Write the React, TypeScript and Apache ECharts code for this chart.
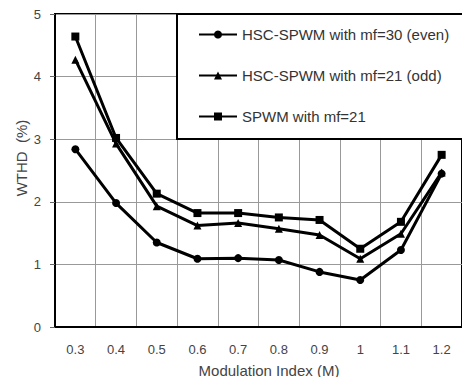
import React, { useEffect, useRef } from "react";
import * as echarts from "echarts";

const categories = ["0.3", "0.4", "0.5", "0.6", "0.7", "0.8", "0.9", "1", "1.1", "1.2"];
const evenValues = [2.84, 1.98, 1.35, 1.09, 1.1, 1.07, 0.88, 0.75, 1.23, 2.45];
const oddValues = [4.27, 2.93, 1.93, 1.62, 1.66, 1.57, 1.47, 1.09, 1.49, 2.47];
const spwmValues = [4.64, 3.02, 2.13, 1.82, 1.82, 1.75, 1.71, 1.25, 1.68, 2.75];
const seriesNames = [
  "HSC-SPWM with mf=30 (even)",
  "HSC-SPWM with mf=21 (odd)",
  "SPWM with mf=21",
];
const seriesSymbols = ["circle", "triangle", "rect"];
const yMin = 0;
const yMax = 5;
const yInterval = 1;
const xAxisName = "Modulation Index (M)";
const yAxisName = "WTHD  (%)";

const FONT = "'Liberation Sans', Arial, sans-serif";

export default function App() {
  const ref = useRef<HTMLDivElement>(null);
  useEffect(() => {
    if (!ref.current) return;
    const chart = echarts.init(ref.current, undefined, { renderer: "svg" });
    const values = [evenValues, oddValues, spwmValues];
    const option: any = {
      animation: false,
      backgroundColor: "#fff",
      textStyle: { fontFamily: FONT },
      grid: {
        left: 55,
        top: 14,
        width: 411,
        height: 313,
        show: true,
        borderColor: "#000",
        borderWidth: 2,
        backgroundColor: "transparent",
      },
      xAxis: {
        type: "category",
        data: categories,
        boundaryGap: true,
        axisLine: { lineStyle: { color: "#000", width: 2 } },
        axisTick: { show: false },
        axisLabel: { color: "#444", fontSize: 13, margin: 16, fontFamily: FONT },
        splitLine: { show: true, interval: 0, lineStyle: { color: "#999", width: 1 } },
      },
      yAxis: {
        type: "value",
        min: yMin,
        max: yMax,
        interval: yInterval,
        axisLine: { show: true, lineStyle: { color: "#000", width: 2 } },
        axisTick: { show: true, length: 5, lineStyle: { color: "#666" } },
        axisLabel: { color: "#444", fontSize: 13, margin: 14, fontFamily: FONT },
        splitLine: { show: true, lineStyle: { color: "#999", width: 1 } },
      },
      legend: {
        orient: "vertical",
        left: 193,
        top: 22,
        itemWidth: 38,
        itemHeight: 10,
        itemGap: 26,
        z: 10,
        textStyle: { color: "#333", fontSize: 15, fontFamily: FONT },
        data: seriesNames,
      },
      graphic: [
        {
          type: "rect",
          z: 5,
          shape: { x: 177, y: 14, width: 300, height: 125 },
          style: { fill: "#fff", stroke: "#000", lineWidth: 2 },
        },
        {
          type: "text",
          x: 269,
          y: 370,
          style: {
            text: xAxisName,
            fill: "#444",
            font: `15px ${FONT}`,
            align: "center",
            verticalAlign: "middle",
          },
        },
        {
          type: "text",
          x: 21,
          y: 158,
          rotation: Math.PI / 2,
          style: {
            text: yAxisName,
            fill: "#444",
            font: `15px ${FONT}`,
            align: "center",
            verticalAlign: "middle",
          },
        },
      ],
      series: seriesNames.map((name, i) => ({
        name,
        type: "line",
        data: values[i],
        symbol: seriesSymbols[i],
        symbolSize: 8,
        z: 3,
        lineStyle: { color: "#000", width: 3 },
        itemStyle: { color: "#000" },
      })),
    };
    chart.setOption(option);
    return () => chart.dispose();
  }, []);
  return (
    <div
      ref={ref}
      style={{ position: "fixed", left: 0, top: 0, width: 462, height: 377 }}
    />
  );
}
